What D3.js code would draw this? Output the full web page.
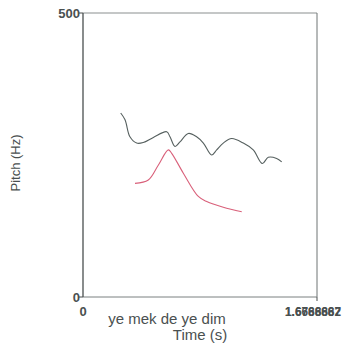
<!DOCTYPE html>
<html><head><meta charset="utf-8">
<script src="https://cdn.jsdelivr.net/npm/d3@7"></script>
<style>html,body{margin:0;padding:0;background:#fff;}svg{display:block;}</style>
</head><body>
<svg id="c" width="355" height="352"></svg>
<script>
const timeA = [0.269,0.300,0.335,0.383,0.430,0.502,0.597,0.621,0.657,0.692,0.752,0.811,0.859,0.918,0.954,1.001,1.061,1.144,1.215,1.280,1.322,1.382,1.418];
const pitchA = [324,312,282,271,272,281,291,282,265,273,288,282,271,250,259,271,279,271,259,235,246,244,238];
const timeB = [0.371,0.466,0.537,0.609,0.633,0.716,0.823,0.883,1.001,1.133];
const pitchB = [200,206,232,259,253,218,177,168,158,150];
const yTicks = [0, 500];
const xTickLabels = ["0", "1.6788882", "1.6666667"];
const transcript = "ye mek de ye dim";
const xMax = 1.67;

const svg = d3.select("#c");
const L = 83, R = 317, T = 13, B = 297;
const x = d3.scaleLinear().domain([0, xMax]).range([L, R]);
const y = d3.scaleLinear().domain([0, 500]).range([B, T]);
const axisCol = "#4a4f4f";
const textCol = "#4a5050";
const font = "Liberation Sans, Arial, sans-serif";

// frame
svg.append("line").attr("x1", L).attr("x2", R).attr("y1", T).attr("y2", T).attr("stroke", "#8a8f8f").attr("stroke-width", 1);
svg.append("line").attr("x1", R).attr("x2", R).attr("y1", T).attr("y2", B).attr("stroke", "#6f7575").attr("stroke-width", 1);
svg.append("line").attr("x1", L).attr("x2", R).attr("y1", B).attr("y2", B).attr("stroke", "#7a8080").attr("stroke-width", 1);
svg.append("line").attr("x1", L).attr("x2", L).attr("y1", T).attr("y2", B).attr("stroke", axisCol).attr("stroke-width", 1.3);

// y ticks
yTicks.forEach(v => {
  svg.append("line").attr("x1", L - 4).attr("x2", L).attr("y1", y(v)).attr("y2", y(v)).attr("stroke", axisCol);
  svg.append("text").attr("x", L - 3).attr("y", y(v)).attr("dy", "0.35em")
    .attr("text-anchor", "end").attr("font-family", font)
    .attr("font-size", 13).attr("font-weight", "bold").attr("fill", textCol).text(v);
});
// x ticks
svg.append("line").attr("x1", R).attr("x2", R).attr("y1", B).attr("y2", B + 4).attr("stroke", axisCol);
svg.append("text").attr("x", x(0)).attr("y", 316).attr("text-anchor", "middle")
  .attr("font-family", font).attr("font-size", 13).attr("font-weight", "bold")
  .attr("fill", textCol).text(xTickLabels[0]);
xTickLabels.slice(1).forEach(t => {
  svg.append("text").attr("x", 313).attr("y", 316).attr("text-anchor", "middle")
    .attr("font-family", font).attr("font-size", 13).attr("font-weight", "bold")
    .attr("textLength", 56).attr("lengthAdjust", "spacingAndGlyphs")
    .attr("fill", textCol).text(t);
});

// transcript & axis titles
svg.append("text").attr("x", 167).attr("y", 324).attr("text-anchor", "middle")
  .attr("font-family", font).attr("font-size", 15)
  .attr("fill", textCol).text(transcript);
svg.append("text").attr("x", 200).attr("y", 340).attr("text-anchor", "middle")
  .attr("font-family", font).attr("font-size", 15)
  .attr("fill", textCol).text("Time (s)");
svg.append("text").attr("transform", "translate(20,163) rotate(-90)").attr("text-anchor", "middle")
  .attr("font-family", font).attr("font-size", 13)
  .attr("fill", textCol).text("Pitch (Hz)");

const line = d3.line().x(d => x(d[0])).y(d => y(d[1])).curve(d3.curveCatmullRom.alpha(0.5));
svg.append("path").datum(timeA.map((t, i) => [t, pitchA[i]]))
  .attr("d", line).attr("fill", "none").attr("stroke", "#56605f").attr("stroke-width", 1.1);
svg.append("path").datum(timeB.map((t, i) => [t, pitchB[i]]))
  .attr("d", line).attr("fill", "none").attr("stroke", "#d9607a").attr("stroke-width", 1.1);
</script>
</body></html>
